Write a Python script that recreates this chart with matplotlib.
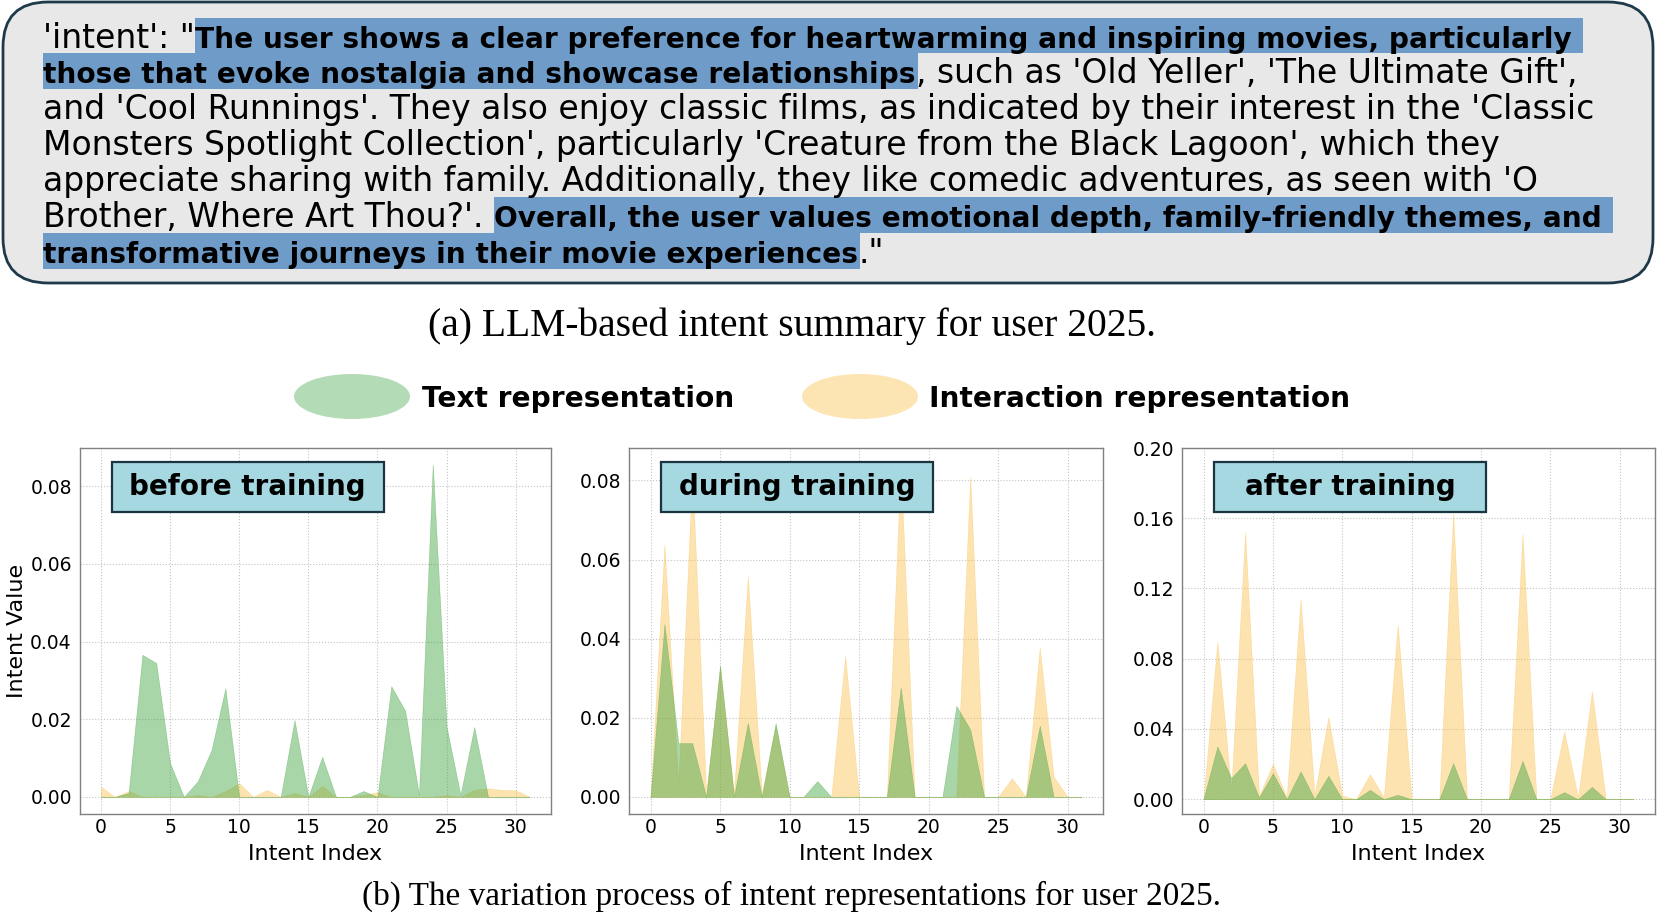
import matplotlib
matplotlib.use("Agg")
import matplotlib.pyplot as plt
from matplotlib.patches import FancyBboxPatch, Rectangle, Ellipse
from matplotlib.ticker import FormatStrFormatter, MultipleLocator

# ---------------- data ----------------
intent_index = list(range(32))

before_text = [0, 0, 0.001, 0.0366, 0.0345, 0.0087, 0, 0.004, 0.0121, 0.028,
               0, 0, 0, 0, 0.0198, 0, 0.0103, 0, 0, 0.0015,
               0, 0.0285, 0.0222, 0.0005, 0.0856, 0.018, 0.0005, 0.018, 0, 0,
               0, 0]
before_inter = [0.0026, 0, 0.0015, 0, 0, 0, 0, 0.0005, 0, 0.0015,
                0.0035, 0, 0.0018, 0, 0.001, 0, 0.0028, 0, 0, 0.0005,
                0.0012, 0, 0, 0, 0, 0.0005, 0, 0.0018, 0.0022, 0.0018,
                0.0017, 0]

during_text = [0, 0.0437, 0.0136, 0.0136, 0, 0.0332, 0, 0.0187, 0, 0.0186,
               0, 0, 0.004, 0, 0, 0, 0, 0, 0.0276, 0,
               0, 0, 0.023, 0.017, 0, 0, 0, 0, 0.018, 0,
               0, 0]
during_inter = [0, 0.0638, 0.003, 0.082, 0.0008, 0.0325, 0.0008, 0.0557, 0.0008, 0.018,
                0, 0, 0, 0, 0.0356, 0, 0, 0, 0.084, 0,
                0, 0, 0, 0.081, 0, 0, 0.0047, 0, 0.0377, 0.0051,
                0, 0]

after_text = [0, 0.030, 0.012, 0.0205, 0.001, 0.0148, 0, 0.0158, 0, 0.0133,
              0, 0, 0.0053, 0, 0.0025, 0, 0, 0, 0.0205, 0,
              0, 0, 0, 0.0218, 0, 0, 0.004, 0, 0.007, 0,
              0, 0]
after_inter = [0, 0.0895, 0.005, 0.152, 0.002, 0.020, 0.001, 0.114, 0.002, 0.0467,
               0.002, 0, 0.0142, 0.001, 0.0993, 0, 0, 0, 0.163, 0,
               0, 0, 0, 0.151, 0, 0, 0.0386, 0.001, 0.0613, 0,
               0, 0]

stage_labels = ["before training", "during training", "after training"]
series_labels = ["Text representation", "Interaction representation"]
x_label = "Intent Index"
y_label = "Intent Value"
caption_a = "(a) LLM-based intent summary for user 2025."
caption_b = "(b) The variation process of intent representations for user 2025."

# text of the intent summary: (segment, highlighted)
summary_lines = [
    [("'intent': \"", False),
     ("The user shows a clear preference for heartwarming and inspiring movies, particularly", True)],
    [("those that evoke nostalgia and showcase relationships", True),
     (", such as 'Old Yeller', 'The Ultimate Gift',", False)],
    [("and 'Cool Runnings'. They also enjoy classic films, as indicated by their interest in the 'Classic", False)],
    [("Monsters Spotlight Collection', particularly 'Creature from the Black Lagoon', which they", False)],
    [("appreciate sharing with family. Additionally, they like comedic adventures, as seen with 'O", False)],
    [("Brother, Where Art Thou?'.", False), (" ", None),
     ("Overall, the user values emotional depth, family-friendly themes, and", True)],
    [("transformative journeys in their movie experiences", True), (".\"", False)],
]

# ---------------- style ----------------
W, H = 1661, 914
TEXT_C = "#3fa43f"
INTER_C = "#fbc150"
ALPHA = 0.45
LEG_TEXT_C = "#b3dbb5"
LEG_INTER_C = "#fde4b3"
HILITE = "#6e9bc8"
BOX_C = "#a5d8e0"

fig = plt.figure(figsize=(W / 100, H / 100), dpi=100)

# panel geometry in pixels (left, right); shared top / bottom
panels_px = [(79.5, 551), (629, 1103), (1182, 1655)]
top_px, bot_px = 448, 813.5

datasets = [(before_text, before_inter), (during_text, during_inter), (after_text, after_inter)]
axes = []
for i, ((l, r), (tv, iv)) in enumerate(zip(panels_px, datasets)):
    ax = fig.add_axes([l / W, 1 - bot_px / H, (r - l) / W, (bot_px - top_px) / H])
    ax.set_axisbelow(True)
    ax.grid(True, linestyle=":", color="#c4c4c4", linewidth=0.8)
    ax.fill_between(intent_index, 0, iv, color=INTER_C, alpha=ALPHA, linewidth=0.4)
    ax.fill_between(intent_index, 0, tv, color=TEXT_C, alpha=ALPHA, linewidth=0.4)
    ax.xaxis.set_major_locator(MultipleLocator(5))
    ax.yaxis.set_major_formatter(FormatStrFormatter("%.2f"))
    if i == 2:
        ax.set_ylim(top=0.2)
        ax.yaxis.set_major_locator(MultipleLocator(0.04))
    else:
        ax.yaxis.set_major_locator(MultipleLocator(0.02))
    ax.tick_params(axis="x", length=0, pad=3.5, labelsize=13.5)
    ax.tick_params(axis="y", length=0, pad=5.5, labelsize=13.5)
    for s in ax.spines.values():
        s.set_color("#808080")
        s.set_linewidth(1.0)
    ax.set_xlabel(x_label, fontsize=16, labelpad=4.5)
    if i == 0:
        ax.set_ylabel(y_label, fontsize=16, labelpad=2)
    axes.append(ax)

# ---------------- overlay in pixel coordinates ----------------
ov = fig.add_axes([0, 0, 1, 1], zorder=10)
ov.set_xlim(0, W)
ov.set_ylim(H, 0)
ov.axis("off")
ov.patch.set_visible(False)

R = fig.canvas.get_renderer()


def text_w(s, **kw):
    t = ov.text(0, 0, s, **kw)
    w = t.get_window_extent(renderer=R).width
    t.remove()
    return w


def fit(s, target, **kw):
    return 20 * target / text_w(s, fontsize=20, **kw)


NORMAL = dict(family="DejaVu Sans")
BOLD = dict(family="DejaVu Sans", weight="bold")

# top rounded box
ov.add_patch(FancyBboxPatch((3, 2), 1650, 281,
                            boxstyle="round,pad=0,rounding_size=45",
                            facecolor="#e8e8e8", edgecolor="#1e3a4a", linewidth=2.0))

fs_norm = fit(summary_lines[2][0][0], 1549, **NORMAL)
fs_bold = fit(summary_lines[0][1][0], 1374, **BOLD)
space_w = text_w("a a", fontsize=fs_norm, **NORMAL) - text_w("aa", fontsize=fs_norm, **NORMAL)

x_start = 43.4
row_top0, row_h = 17.5, 35.9
for k, segs in enumerate(summary_lines):
    x = x_start
    top = row_top0 + k * row_h
    base = top + 30
    for j, (s, bold) in enumerate(segs):
        if bold is None:
            x += space_w
            continue
        style = BOLD if bold else NORMAL
        fs = fs_bold if bold else fs_norm
        t = ov.text(x, base, s, fontsize=fs, ha="left", va="baseline",
                    color="black", zorder=3, **style)
        w = t.get_window_extent(renderer=R).width
        if bold:
            pad = space_w if j == len(segs) - 1 else 2
            ov.add_patch(Rectangle((x - 0.5, top), w + pad + 0.5, row_h,
                                   facecolor=HILITE, edgecolor="none", zorder=2))
        x += w

# captions
SERIF = dict(family="Liberation Serif")
fs_cap_a = fit(caption_a, 729, **SERIF)
fs_cap_b = fit(caption_b, 856, **SERIF)
ov.text(792.5, 326, caption_a, fontsize=fs_cap_a, ha="center", va="center", **SERIF)
ov.text(792, 896, caption_b, fontsize=fs_cap_b, ha="center", va="center", **SERIF)

# legend
fs_leg = fit(series_labels[0], 311, **BOLD)
for cx, col, lab, tx in [(352, LEG_TEXT_C, series_labels[0], 422),
                         (860, LEG_INTER_C, series_labels[1], 929)]:
    ov.add_patch(Ellipse((cx, 396.5), 116, 45, facecolor=col, edgecolor="none"))
    ov.text(tx, 407, lab, fontsize=fs_leg, ha="left", va="baseline", **BOLD)

# stage label boxes
fs_box = fit(stage_labels[0], 236, **BOLD)
for (l, r), lab in zip(panels_px, stage_labels):
    bx = l + 32
    ov.add_patch(Rectangle((bx, 461.7), 272, 50.6, facecolor=BOX_C,
                           edgecolor="#1b3540", linewidth=1.6, zorder=4))
    ov.text(bx + 136, 487, lab, fontsize=fs_box, ha="center", va="center",
            zorder=5, **BOLD)

fig.savefig("out.png", dpi=100)
